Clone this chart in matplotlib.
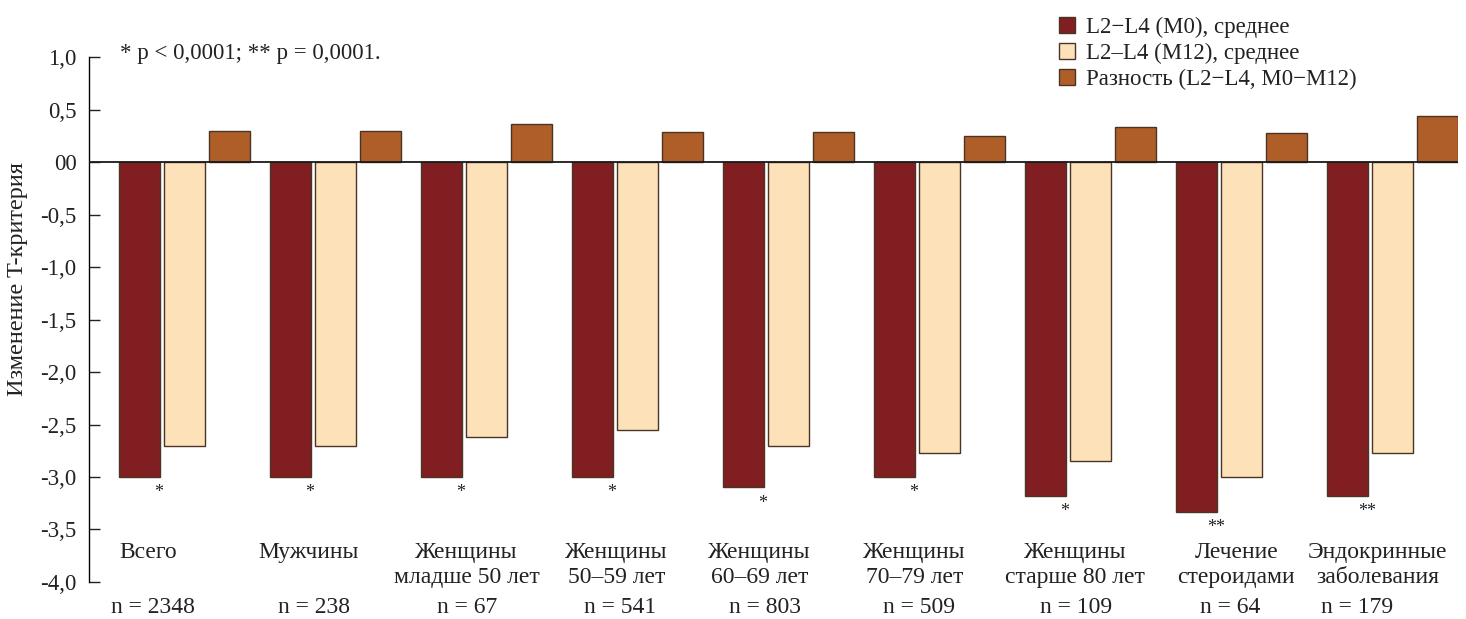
import numpy as np
from matplotlib import pyplot as plt
from matplotlib.patches import Patch

plt.rcParams['font.family'] = ['Liberation Serif', 'DejaVu Serif']

groups = ['Всего', 'Мужчины', 'Женщины\nмладше 50 лет', 'Женщины\n50–59 лет',
          'Женщины\n60–69 лет', 'Женщины\n70–79 лет', 'Женщины\nстарше 80 лет',
          'Лечение\nстероидами', 'Эндокринные\nзаболевания']
n_counts = [2348, 238, 67, 541, 803, 509, 109, 64, 179]
m0 = [-3.0, -3.0, -3.0, -3.0, -3.1, -3.0, -3.18, -3.33, -3.18]
m12 = [-2.7, -2.7, -2.62, -2.55, -2.7, -2.77, -2.85, -3.0, -2.77]
diff = [0.3, 0.3, 0.36, 0.29, 0.29, 0.25, 0.33, 0.28, 0.44]
signif = ['*', '*', '*', '*', '*', '*', '*', '**', '**']

series_names = ['L2−L4 (M0), среднее', 'L2–L4 (M12), среднее', 'Разность (L2−L4, M0−M12)']
yticks = [-4.0, -3.5, -3.0, -2.5, -2.0, -1.5, -1.0, -0.5, 0.0, 0.5, 1.0]
ytick_labels = ['-4,0', '-3,5', '-3,0', '-2,5', '-2,0', '-1,5', '-1,0', '-0,5', '00', '0,5', '1,0']

# horizontal nudges (in group widths) for the text under each group
name_dx = np.array([-36, -27, -20, -21, -29, -25, -15, -5, -15]) / 151
n_dx = np.array([-31, -21, -19, -17, -23, -20, -14, -11, -35]) / 151

c_m0 = '#801e22'
c_m12 = '#fde2b9'
c_diff = '#b05e27'
edge = '#4a3426'
txt = '#222222'

fig = plt.figure(figsize=(14.66, 6.19), dpi=100)
ax = fig.add_axes([0.0607, 0.0598, 0.9338, 0.848])

x = np.arange(len(groups))
w = 0.272
step = 0.298
kw = dict(width=w, edgecolor=edge, linewidth=1.0, zorder=2)
ax.bar(x - step, m0, color=c_m0, **kw)
ax.bar(x, m12, color=c_m12, **kw)
ax.bar(x + step, diff, color=c_diff, **kw)

ax.axhline(0, color='#1a1a1a', linewidth=1.3, zorder=3)

ax.set_xlim(-0.632, 8.434)
ax.set_ylim(-4.0, 1.0)
ax.set_yticks(yticks)
ax.set_yticklabels(ytick_labels)
ax.tick_params(axis='y', direction='in', labelsize=16.5, length=8, width=1.0,
               pad=9, colors=txt)
ax.set_xticks([])
for s in ['top', 'right', 'bottom']:
    ax.spines[s].set_visible(False)
ax.spines['left'].set_linewidth(1.0)

# significance marks under the M0 bars
for xi, v, s in zip(x, m0, signif):
    ax.text(xi - 0.17, v - 0.15, s, ha='center', va='center', fontsize=13,
            color=txt, clip_on=False)

# group names and sample sizes below the plot
for xi, g, n, dg, dn in zip(x, groups, n_counts, name_dx, n_dx):
    ax.text(xi + dg, -3.62, g, ha='center', va='top', fontsize=17,
            linespacing=1.25, color=txt, clip_on=False)
    ax.text(xi + dn, -4.24, f'n = {n}', ha='center', va='center', fontsize=17,
            color=txt, clip_on=False)

ax.text(0.023, 1.006, '* p < 0,0001; ** p = 0,0001.', transform=ax.transAxes,
        ha='left', va='center', fontsize=16.5, color=txt)

fig.text(0.012, 0.549, 'Изменение T-критерия', rotation=90, ha='center', va='center',
         fontsize=17.5, color=txt)

handles = [Patch(facecolor=c, edgecolor=edge, linewidth=1.0) for c in (c_m0, c_m12, c_diff)]
fig.legend(handles, series_names, loc='upper left', bbox_to_anchor=(0.708, 1.006),
           frameon=False, fontsize=16.5, handlelength=0.7, handleheight=0.7,
           handletextpad=0.5, labelspacing=0.2, labelcolor=txt)

fig.savefig('out.png', dpi=100)
